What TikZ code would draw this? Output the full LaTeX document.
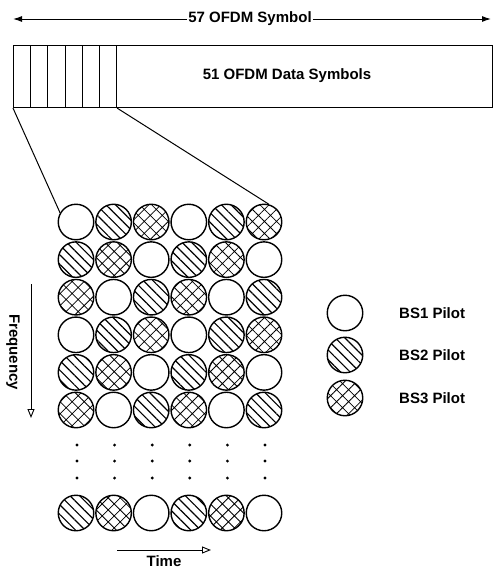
\documentclass[tikz,border=0pt]{standalone}
\usepackage{fontspec}
\setmainfont{Liberation Sans}
\usetikzlibrary{arrows.meta,patterns.meta}
\tikzset{
  pilotbase/.style={circle, draw, line width=1.4pt, minimum size=35.5pt, inner sep=0pt},
  pilot0/.style={pilotbase},
  pilot1/.style={pilotbase, pattern={Lines[angle=-45,distance=6.8pt,line width=1.2pt]}},
  pilot2/.style={pilotbase, pattern={Hatch[angle=45,distance=8.5pt,line width=0.8pt]}},
  lbl/.style={font=\bfseries\fontsize{15}{17}\selectfont, inner sep=1pt},
  cellbox/.style={draw, line width=1.1pt, anchor=north west, minimum height=62pt, inner sep=0pt},
  dotmark/.style={circle, fill, minimum size=3.2pt, inner sep=0pt},
  openarrow/.style={line width=0.9pt, -{Triangle[open, length=9pt, width=7pt]}},
}
\begin{document}
\begin{tikzpicture}[x=1pt,y=-1pt]
\useasboundingbox (0,0) rectangle (493,570);

% top arrow with label
\coordinate (L) at (13,19);
\coordinate (R) at (491,19);
\node[lbl] (t57) at (250,19) {57 OFDM Symbol};
\draw[line width=1pt,-{Latex[length=9pt,width=6pt]}] (t57) -- (R);
\draw[line width=1pt,-{Latex[length=9pt,width=6pt]}] (t57) -- (L);

% frame cells
\foreach \i in {1,...,6}{
  \node[cellbox, minimum width=17.17pt] (cell\i) at ({13+17.17*(\i-1)},45) {};
}
\node[cellbox, minimum width=376pt] (data) at (116,45) {};
\node[lbl] (datatext) at (287,76) {51 OFDM Data Symbols};

% pilot grid
\foreach \r in {0,...,5}{
  \foreach \c in {0,...,5}{
    \pgfmathtruncatemacro{\t}{mod(\r+\c,3)}
    \node[pilot\t] (p\r\c) at ({76+37.6*\c},{222+37.6*\r}) {};
  }
}
\foreach \c in {0,...,5}{
  \pgfmathtruncatemacro{\t}{mod(1+\c,3)}
  \node[pilot\t] (q\c) at ({76+37.6*\c},513) {};
  \foreach \yy [count=\k] in {445,461,478}{
    \node[dotmark] (d\c\k) at ({77+37.6*\c},\yy) {};
  }
}

% zoom connectors
\draw[line width=1pt] (cell1.south west) -- (p00.150);
\draw[line width=1pt] (cell6.south east) -- (p05.75);

% frequency arrow
\coordinate (f0) at (31,284);
\coordinate (f1) at (31,418);
\draw[openarrow] (f0) -- (f1);
\node[lbl, rotate=-90] (freq) at (13,352) {Frequency};

% time arrow
\coordinate (t0) at (117,550);
\coordinate (t1) at (211,550);
\draw[openarrow] (t0) -- (t1);
\node[lbl, inner sep=0pt] (time) at (164,561) {Time};

% legend
\node[pilot0] (l1) at (345,313) {};
\node[pilot1] (l2) at (345,355) {};
\node[pilot2] (l3) at (345,398) {};
\node[lbl, anchor=west] (lt1) at (398,313) {BS1 Pilot};
\node[lbl, anchor=west] (lt2) at (398,355) {BS2 Pilot};
\node[lbl, anchor=west] (lt3) at (398,398) {BS3 Pilot};
\end{tikzpicture}
\end{document}
